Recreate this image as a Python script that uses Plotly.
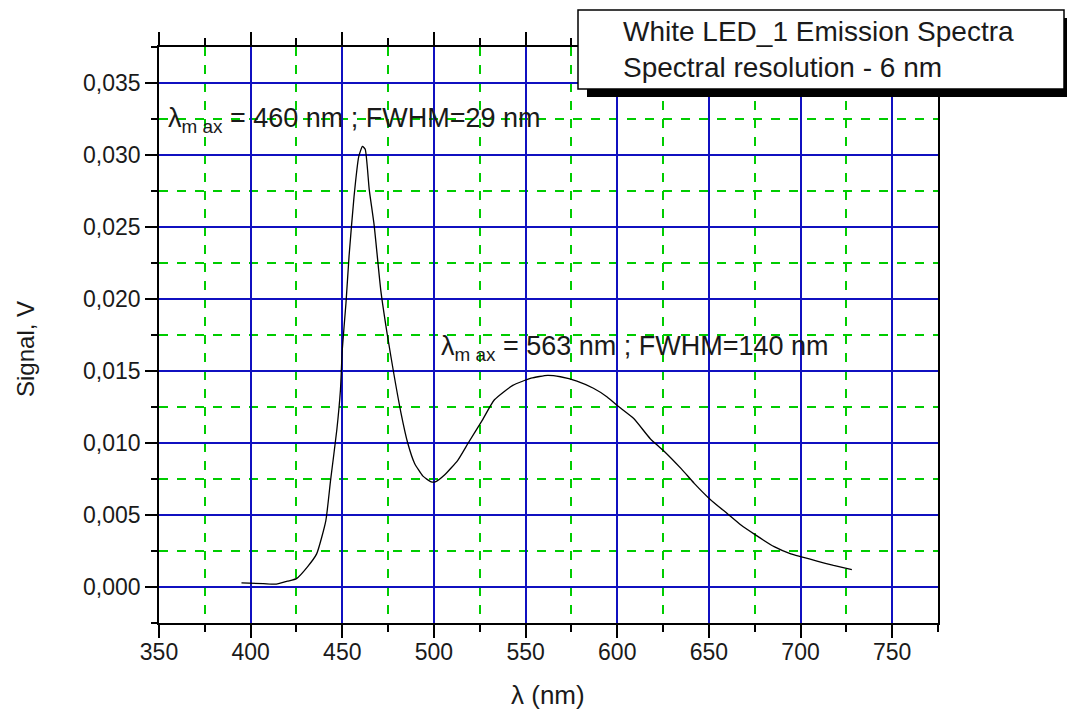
import plotly.graph_objects as go

# Emission spectrum
wavelength = [395, 407, 414, 420, 425, 431, 436, 441, 443.6, 447, 449, 450, 452, 453.7, 456.4, 459, 461,
              462.5, 464.7, 467.4, 471, 474.7, 478.4, 482, 485.7, 489.4, 494, 498.5, 500.7, 505.9, 513,
              518.7, 526, 533, 543, 553, 562, 569, 578, 587, 594.5, 600, 609, 618, 625, 635, 642, 650.6,
              660, 667.5, 675.6, 685.6, 694.7, 700.5, 709, 718, 728]
signal = [0.00028, 0.00023, 0.0002, 0.0004, 0.00058, 0.0014, 0.0023, 0.0046, 0.0074, 0.0109, 0.0137,
          0.0165, 0.0197, 0.0230, 0.0271, 0.0299, 0.0306, 0.0304, 0.0276, 0.0251, 0.0206, 0.0174, 0.0146,
          0.0121, 0.0100, 0.0086, 0.0077, 0.0073, 0.0073, 0.0078, 0.0088, 0.0100, 0.0115, 0.0130, 0.0140,
          0.0145, 0.0147, 0.0146, 0.0143, 0.0138, 0.0132, 0.0126, 0.0117, 0.0103, 0.0095, 0.0082, 0.0072,
          0.0061, 0.0051, 0.0043, 0.0036, 0.0028, 0.0023, 0.0021, 0.0018, 0.0015, 0.0012]

title_lines = ["White LED_1 Emission Spectra", "Spectral resolution - 6 nm"]
peak_labels = ["λ<sub>m ax</sub> = 460 nm ; FWHM=29 nm", "λ<sub>m ax</sub> = 563 nm ; FWHM=140 nm"]
peak_label_pos = [(354.0, 0.0324), (503.0, 0.0166)]

W, H = 1067, 717
L, R, T, B = 159, 938, 47, 623
def px(x):
    return (x - L) / (R - L)
def py(y):
    return (B - y) / (B - T)

FONT = "Liberation Sans, Arial, sans-serif"
TXT = "#1a1a1a"
GREEN = "#00cc00"

fig = go.Figure()
fig.add_trace(go.Scatter(x=wavelength, y=signal, mode="lines",
                         line=dict(color="black", width=1.3, shape="spline", smoothing=0.5),
                         showlegend=False))

axis_common = dict(showline=True, linecolor="black", linewidth=1.5,
                   ticks="outside", tickcolor="black", tickwidth=1.5,
                   showgrid=True, gridcolor="#1010c0", gridwidth=1.5, zeroline=False,
                   tickfont=dict(family=FONT, size=23, color=TXT))

fig.update_xaxes(range=[350, 775], tick0=350, dtick=50, ticklen=13, mirror="ticks",
                 ticklabelstandoff=-5,
                 minor=dict(dtick=25, tick0=350, ticks="outside", ticklen=7, tickcolor="black",
                            showgrid=True, gridcolor=GREEN, griddash="dash", gridwidth=1.5),
                 **axis_common)
fig.update_yaxes(range=[-0.0025, 0.0375], tick0=0, dtick=0.005, ticklen=12, mirror=True,
                 tickformat=".3f", ticklabelstandoff=0,
                 minor=dict(dtick=0.0025, tick0=0, ticks="outside", ticklen=6, tickcolor="black",
                            showgrid=True, gridcolor=GREEN, griddash="dash", gridwidth=1.5),
                 **axis_common)

shapes = [
    dict(type="rect", xref="paper", yref="paper", x0=px(587), x1=px(1075), y0=py(97), y1=py(18),
         fillcolor="black", line=dict(width=0), layer="above"),
    dict(type="rect", xref="paper", yref="paper", x0=px(578), x1=px(1064), y0=py(89), y1=py(10),
         fillcolor="white", line=dict(color="black", width=1.5), layer="above"),
]

annotations = [
    dict(text=title_lines[0], xref="paper", yref="paper", x=px(621), y=py(32), xanchor="left",
         yanchor="middle", showarrow=False, font=dict(family=FONT, size=28, color=TXT)),
    dict(text=title_lines[1], xref="paper", yref="paper", x=px(621), y=py(67), xanchor="left",
         yanchor="middle", showarrow=False, font=dict(family=FONT, size=28, color=TXT)),
    dict(text="λ (nm)", xref="paper", yref="paper", x=px(548), y=py(695), xanchor="center",
         yanchor="middle", showarrow=False, font=dict(family=FONT, size=26, color=TXT)),
    dict(text="Signal, V", xref="paper", yref="paper", x=px(25), y=py(349), xanchor="center",
         yanchor="middle", textangle=-90, showarrow=False, font=dict(family=FONT, size=24, color=TXT)),
]
for txt, (ax, ay) in zip(peak_labels, peak_label_pos):
    annotations.append(dict(text=txt, x=ax, y=ay, xref="x", yref="y", xanchor="left", yanchor="middle",
                            showarrow=False, font=dict(family=FONT, size=27, color=TXT)))

fig.update_layout(width=W, height=H, margin=dict(l=L, r=W - R, t=T, b=H - B, pad=0),
                  plot_bgcolor="white", paper_bgcolor="white", separators=", ",
                  shapes=shapes, annotations=annotations)

fig.write_html("out.html")
